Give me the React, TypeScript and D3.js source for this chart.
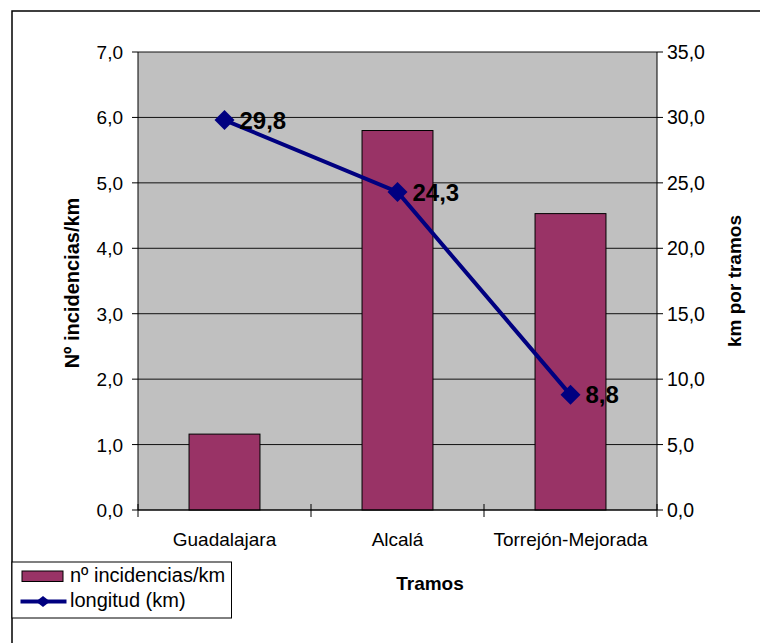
import React from "react";
import * as d3 from "d3";

const categories = ["Guadalajara", "Alcalá", "Torrejón-Mejorada"];
const incidencias = [1.16, 5.8, 4.53];
const longitud = [29.8, 24.3, 8.8];
const leftTicks = [0, 1, 2, 3, 4, 5, 6, 7];
const rightTicks = [0, 5, 10, 15, 20, 25, 30, 35];

const fmt = (v: number) => v.toFixed(1).replace(".", ",");

export default function App() {
  const W = 760, H = 643;
  const L = 138, R = 657, T = 52, B = 510;
  const x = d3.scaleBand<string>().domain(categories).range([L, R]).paddingInner(0).paddingOuter(0);
  const yL = d3.scaleLinear().domain([0, 7]).range([B, T]);
  const yR = d3.scaleLinear().domain([0, 35]).range([B, T]);
  const bw = x.bandwidth() * 0.41;
  const font = "'Liberation Sans', Arial, sans-serif";
  const line = d3.line<number>()
    .x((_, i) => x(categories[i])! + x.bandwidth() / 2)
    .y((d) => yR(d));
  const diamond = (cx: number, cy: number, rx: number, ry: number) =>
    `M${cx},${cy - ry}L${cx + rx},${cy}L${cx},${cy + ry}L${cx - rx},${cy}Z`;
  const bounds = [L, ...categories.map((c) => x(c)! + x.bandwidth())];

  return (
    <svg width={W} height={H} style={{ position: "absolute", left: 0, top: 0 }} fontFamily={font}>
      <rect x={0} y={0} width={W} height={H} fill="#fff" />
      <rect x={12} y={11} width={W + 20} height={H + 20} fill="none" stroke="#000" strokeWidth={1.5} />
      <rect x={L} y={T} width={R - L} height={B - T} fill="#C0C0C0" />
      {leftTicks.map((t) => (
        <line key={"g" + t} x1={L} x2={R} y1={yL(t)} y2={yL(t)} stroke="#111" strokeWidth={1} />
      ))}
      {categories.map((c, i) => (
        <rect key={c} x={x(c)! + (x.bandwidth() - bw) / 2} y={yL(incidencias[i])}
          width={bw} height={B - yL(incidencias[i])} fill="#993366" stroke="#000" strokeWidth={1} />
      ))}
      {/* axes */}
      <line x1={L} x2={L} y1={T} y2={B} stroke="#000" />
      <line x1={R} x2={R} y1={T} y2={B} stroke="#000" />
      <line x1={L} x2={R} y1={B} y2={B} stroke="#000" />
      {leftTicks.map((t) => (
        <g key={"l" + t}>
          <line x1={L - 6} x2={L} y1={yL(t)} y2={yL(t)} stroke="#000" />
          <text x={L - 15} y={yL(t) + 7} textAnchor="end" fontSize={19}>{fmt(t)}</text>
        </g>
      ))}
      {rightTicks.map((t) => (
        <g key={"r" + t}>
          <line x1={R} x2={R + 6} y1={yR(t)} y2={yR(t)} stroke="#000" />
          <text x={R + 10} y={yR(t) + 7} textAnchor="start" fontSize={19.5}>{fmt(t)}</text>
        </g>
      ))}
      {bounds.map((b, i) => (
        <line key={"c" + i} x1={b} x2={b} y1={B - 6} y2={B + 7} stroke="#000" />
      ))}
      {categories.map((c) => (
        <text key={"t" + c} x={x(c)! + x.bandwidth() / 2} y={B + 36} textAnchor="middle" fontSize={19}>{c}</text>
      ))}
      {/* line series */}
      <path d={line(longitud) || ""} fill="none" stroke="#000080" strokeWidth={4} />
      {longitud.map((v, i) => {
        const cx = x(categories[i])! + x.bandwidth() / 2;
        const cy = yR(v);
        return (
          <g key={"p" + i}>
            <path d={diamond(cx, cy, 10, 10)} fill="#000080" />
            <text x={cx + 15} y={cy + 8.5} fontSize={24} fontWeight="bold">{fmt(v)}</text>
          </g>
        );
      })}
      {/* axis titles */}
      <text transform={`translate(79,${(T + B) / 2 + 2}) rotate(-90)`} textAnchor="middle" fontSize={20} fontWeight="bold">Nº incidencias/km</text>
      <text transform={`translate(741,${(T + B) / 2}) rotate(-90)`} textAnchor="middle" fontSize={19} fontWeight="bold">km por tramos</text>
      <text x={430} y={590} textAnchor="middle" fontSize={19} fontWeight="bold">Tramos</text>
      {/* legend */}
      <rect x={12} y={562} width={219.5} height={56} fill="#fff" stroke="#000" strokeWidth={1} />
      <rect x={22} y={571} width={41} height={10.5} fill="#993366" stroke="#000" />
      <text x={70} y={581.5} fontSize={20}>nº incidencias/km</text>
      <line x1={20.5} x2={66.5} y1={601.5} y2={601.5} stroke="#000080" strokeWidth={4} />
      <path d={diamond(43, 601.5, 7, 5.5)} fill="#000080" />
      <text x={70} y={607} fontSize={20}>longitud (km)</text>
    </svg>
  );
}
